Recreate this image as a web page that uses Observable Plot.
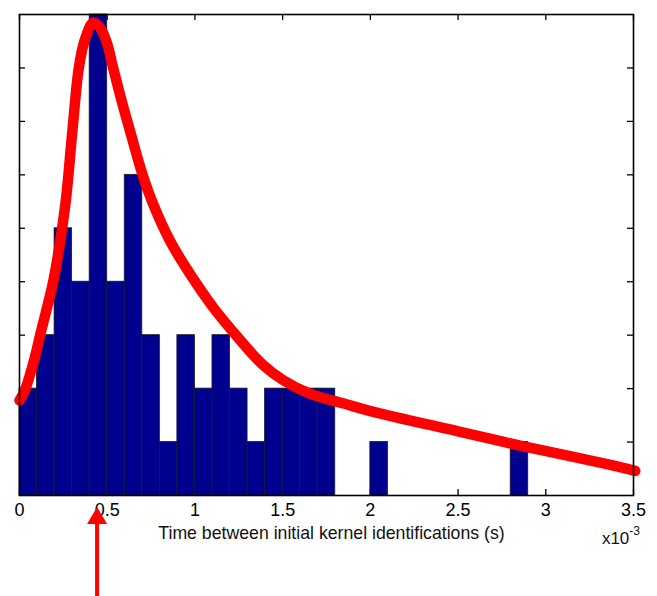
<!DOCTYPE html>
<html>
<head>
<meta charset="utf-8">
<script src="https://cdn.jsdelivr.net/npm/d3@7"></script>
<script src="https://cdn.jsdelivr.net/npm/@observablehq/plot@0.6"></script>
<style>
  html, body { margin: 0; padding: 0; background: #fff; }
  #chart svg { display: block; }
</style>
</head>
<body>
<div id="chart"></div>
<script>
// Histogram bins (x in units of 10^-3 s), bin width 0.1
const binStart = [0, 0.1, 0.2, 0.3, 0.4, 0.5, 0.6, 0.7, 0.8, 0.9, 1.0, 1.1, 1.2, 1.3, 1.4, 1.5, 1.6, 1.7, 2.0, 2.8];
const binCount = [2, 3, 5, 4, 9, 4, 6, 3, 1, 3, 2, 3, 2, 1, 2, 2, 2, 2, 1, 1];
const binWidth = 0.1;

// Fitted curve (red)
const fitX = [0, 0.03, 0.083, 0.12, 0.19, 0.217, 0.264, 0.30, 0.338, 0.37, 0.42, 0.46, 0.50, 0.53, 0.585, 0.642, 0.70, 0.766, 0.857, 0.971, 1.104, 1.26, 1.383, 1.507, 1.659, 1.849, 2.0, 2.5, 2.86, 3.33, 3.51];
const fitY = [1.78, 1.96, 2.53, 3.03, 3.97, 4.45, 5.52, 6.77, 8.0, 8.5, 8.85, 8.75, 8.45, 8.05, 7.35, 6.68, 6.02, 5.42, 4.77, 4.15, 3.52, 2.90, 2.46, 2.15, 1.90, 1.72, 1.58, 1.20, 0.93, 0.60, 0.46];

const xTicks = [0, 0.5, 1, 1.5, 2, 2.5, 3, 3.5];
const yTicks = [1, 2, 3, 4, 5, 6, 7, 8];
const xLabel = "Time between initial kernel identifications (s)";
const xExponent = "-3";
const arrowX = [0.445];

const bins = binStart.map((s, i) => ({x1: s, x2: s + binWidth, y: binCount[i]}));
const fit = fitX.map((x, i) => ({x, y: fitY[i]}));

const W = 657, H = 596;
const mL = 19, mR = 24, mT = 14, mB = 101;
const fw = W - mL - mR, fh = H - mT - mB;
const tk = 6;
const font = "'Liberation Sans', Arial, Helvetica, sans-serif";

const plot = Plot.plot({
  width: W,
  height: H,
  marginLeft: mL,
  marginRight: mR,
  marginTop: mT,
  marginBottom: mB,
  style: {fontFamily: font, background: "#fff", color: "#000", overflow: "visible"},
  x: {domain: [0, 3.5]},
  y: {domain: [0, 9]},
  marks: [
    Plot.ruleX(xTicks, {x: d => d, insetTop: fh - tk, stroke: "#000", strokeWidth: 1.3}),
    Plot.ruleX(xTicks, {x: d => d, insetBottom: fh - tk, stroke: "#000", strokeWidth: 1.3}),
    Plot.ruleY(yTicks, {y: d => d, insetRight: fw - tk, stroke: "#000", strokeWidth: 1.3}),
    Plot.ruleY(yTicks, {y: d => d, insetLeft: fw - tk, stroke: "#000", strokeWidth: 1.3}),
    Plot.rectY(bins, {x1: "x1", x2: "x2", y: "y", fill: "#00008f", stroke: "#1a1a2a", strokeWidth: 0.8}),
    Plot.line(fit, {x: "x", y: "y", stroke: "#ff0000", strokeWidth: 10.5, curve: "catmull-rom", strokeLinecap: "round", strokeLinejoin: "round"}),
    Plot.frame({stroke: "#000", strokeWidth: 1.6}),
    Plot.axisX({ticks: xTicks, tickSize: 0, tickPadding: 8, tickFormat: d => String(d), fontSize: 18, label: null}),
    Plot.axisY({ticks: [], label: null}),
    Plot.text([xLabel], {frameAnchor: "bottom", dx: 5, dy: 43, lineAnchor: "bottom", fontSize: 17.7, fill: "#111"})
  ]
});

const svg = d3.select(plot);
const sx = plot.scale("x");
const ax = sx.apply(arrowX[0]);

// Exponent label at the right end of x axis
const expText = svg.append("text")
  .attr("x", sx.apply(3.5) + 7)
  .attr("y", 544)
  .attr("text-anchor", "end")
  .attr("font-family", font)
  .attr("font-size", 17)
  .attr("fill", "#111");
expText.append("tspan").text("x10");
expText.append("tspan").attr("font-size", 12).attr("dy", -9).text(xExponent);

// Red arrow pointing at the mode
svg.append("line")
  .attr("x1", ax).attr("x2", ax)
  .attr("y1", 522).attr("y2", H)
  .attr("stroke", "#ff0000").attr("stroke-width", 4);
svg.append("path")
  .attr("d", `M${ax},507 L${ax - 10},524 L${ax + 10},524 Z`)
  .attr("fill", "#ff0000");

document.getElementById("chart").appendChild(plot);
</script>
</body>
</html>
